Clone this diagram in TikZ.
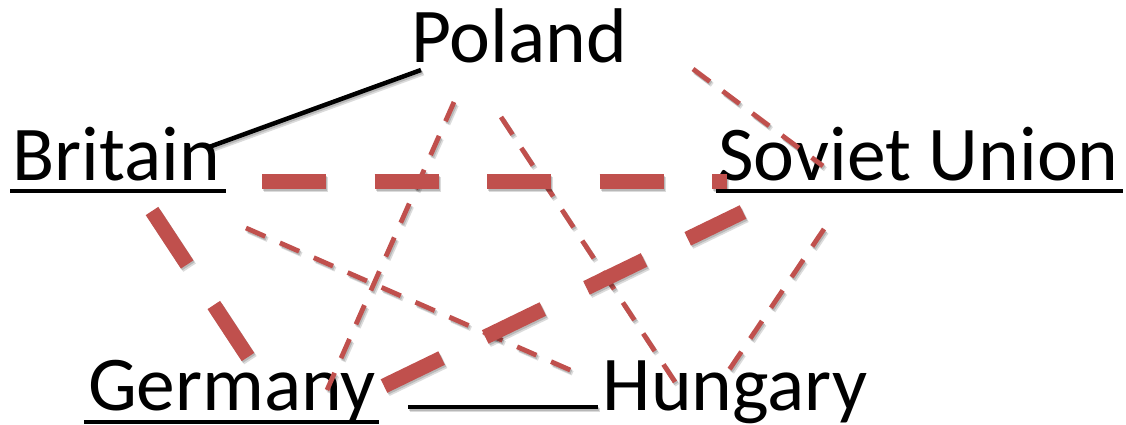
\documentclass[tikz,border=0pt]{standalone}
\usepackage{fontspec}
\setmainfont{Carlito}
\definecolor{linkred}{HTML}{C0504D}

% draw a connector with a soft drop shadow underneath
\newcommand\shadowlink[3]{%
  \draw[#1,draw=black,opacity=0.14,transform canvas={shift={(2.4pt,-3.2pt)}}] (#2) -- (#3);
  \draw[#1,draw=black,opacity=0.16,transform canvas={shift={(1.2pt,-1.8pt)}}] (#2) -- (#3);
  \draw[#1] (#2) -- (#3);}

\begin{document}
\begin{tikzpicture}[x=1pt,y=-1pt,
  country/.style={inner sep=0pt,anchor=base,font=\fontsize{77.5}{90}\selectfont},
  uline/.style={line width=4.5pt,black},
  ally/.style={line width=4.5pt,black},
  enemy/.style={line width=15pt,linkred,dash pattern=on 64pt off 48.5pt},
  weak/.style={line width=4.8pt,linkred,dash pattern=on 21pt off 16pt}]
\useasboundingbox (0,0) rectangle (1126,425);

% country labels
\node[country] (poland)  at (519,63)   {Poland};
\node[country] (britain) at (116,180)  {Britain};
\node[country] (soviet)  at (918.5,180){Soviet Union};
\node[country] (germany) at (232,410)  {Germany};
\node[country] (hungary) at (735,410)  {Hungary};

% underlines
\draw[uline] ([xshift=-2pt,yshift=-11pt]britain.base west) -- ([xshift=6pt,yshift=-11pt]britain.base east);
\draw[uline] ([xshift=-2pt,yshift=-11pt]soviet.base west) -- ([xshift=4pt,yshift=-11pt]soviet.base east);
\draw[uline] ([xshift=-4pt,yshift=-12pt]germany.base west) -- ([xshift=3pt,yshift=-12pt]germany.base east);

% connector end points
\coordinate (pb1) at (421,70);   \coordinate (pb2) at (209,147);
\coordinate (gh1) at (408,407);  \coordinate (gh2) at (598,407);
\coordinate (bs1) at (262,181.5);\coordinate (bs2) at (727,181.5);
\coordinate (bg1) at (152,211);  \coordinate (bg2) at (248,357);
\coordinate (gs1) at (384,386);  \coordinate (gs2) at (743,212);
\coordinate (pg1) at (454,102);  \coordinate (pg2) at (327,390);
\coordinate (ph1) at (501,117);  \coordinate (ph2) at (677,385);
\coordinate (ps1) at (693,69);   \coordinate (ps2) at (823,166);
\coordinate (bh1) at (246,228);  \coordinate (bh2) at (577,373);
\coordinate (sh1) at (824,229);  \coordinate (sh2) at (727,373);

% weak links
\shadowlink{weak}{pg1}{pg2}
\shadowlink{weak}{ph1}{ph2}
\shadowlink{weak}{ps1}{ps2}
\shadowlink{weak}{bh1}{bh2}
\shadowlink{weak}{sh1}{sh2}

% hostile links
\shadowlink{enemy}{bs1}{bs2}
\shadowlink{enemy}{bg1}{bg2}
\shadowlink{enemy}{gs1}{gs2}

% alliances
\shadowlink{ally}{pb1}{pb2}
\shadowlink{ally}{gh1}{gh2}
\end{tikzpicture}
\end{document}
